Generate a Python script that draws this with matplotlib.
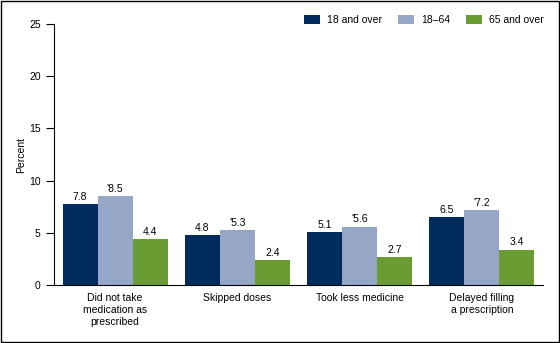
import matplotlib
matplotlib.use("Agg")
import matplotlib.pyplot as plt
from matplotlib.patches import Rectangle
import numpy as np

plt.rcParams['font.family'] = ['Liberation Sans', 'DejaVu Sans']

categories = ["Did not take\nmedication as\nprescribed", "Skipped doses",
              "Took less medicine", "Delayed filling\na prescription"]
series_names = ["18 and over", "18\u201364", "65 and over"]
all_adults = [7.8, 4.8, 5.1, 6.5]
age_18_64 = [8.5, 5.3, 5.6, 7.2]
age_65_over = [4.4, 2.4, 2.7, 3.4]
label_prefix = ["", "'", ""]
colors = ["#002B5C", "#96A6C6", "#6B9B33"]

fig = plt.figure(figsize=(5.6, 3.43), dpi=100)
ax = fig.add_axes([0.0964, 0.169, 0.873, 0.761])

x = np.arange(len(categories))
w = 0.286
for i, vals in enumerate([all_adults, age_18_64, age_65_over]):
    pos = x + (i - 1) * w
    ax.bar(pos, vals, width=w, color=colors[i], label=series_names[i])
    for p, v in zip(pos, vals):
        ax.text(p, v + 0.2, label_prefix[i] + f"{v:.1f}", ha="center", va="bottom", fontsize=7.5)

ax.set_xlim(-0.5, 3.5)
ax.set_ylim(0, 25)
ax.set_yticks([0, 5, 10, 15, 20, 25])
ax.set_xticks(x)
ax.set_xticklabels(categories, fontsize=7.5, linespacing=1.25)
ax.tick_params(axis="x", length=0, pad=6)
ax.tick_params(axis="y", labelsize=7.5, length=6, direction="out")
ax.spines["top"].set_visible(False)
ax.spines["right"].set_visible(False)
ax.set_ylabel("Percent", fontsize=7.5)
ax.yaxis.set_label_coords(-0.058, 0.5)

ax.legend(loc="upper right", bbox_to_anchor=(1.022, 1.07), ncol=3, frameon=False,
          fontsize=7.5, handlelength=1.55, handleheight=1.0, columnspacing=1.5,
          handletextpad=0.7)

fig.patches.append(Rectangle((0.001, 0.002), 0.997, 0.995, transform=fig.transFigure,
                             fill=False, edgecolor="black", linewidth=1.0))

fig.savefig("out.png", dpi=100)
